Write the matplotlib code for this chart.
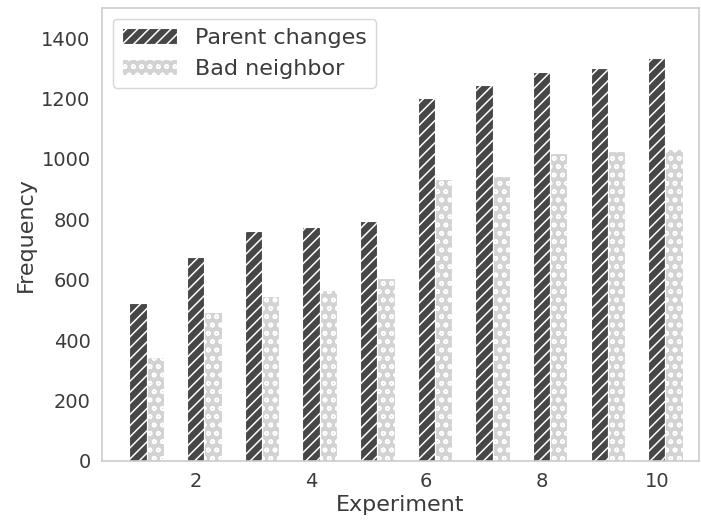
import numpy as np
import matplotlib
matplotlib.use("Agg")
import matplotlib.pyplot as plt

# data
experiments = np.arange(1, 11)
parent_changes = [522, 674, 762, 773, 795, 1200, 1244, 1286, 1300, 1333]
bad_neighbor = [344, 494, 545, 565, 607, 934, 942, 1018, 1025, 1033]

text_color = '#3b3b3b'
plt.rcParams['font.family'] = ['DejaVu Sans']
plt.rcParams['text.color'] = text_color
plt.rcParams['axes.labelcolor'] = text_color
plt.rcParams['xtick.color'] = text_color
plt.rcParams['ytick.color'] = text_color
plt.rcParams['hatch.linewidth'] = 1.1

fig, ax = plt.subplots(figsize=(7.01, 5.22), dpi=100)
width = 0.3
ax.bar(experiments, parent_changes, width, color='#474747', edgecolor='white',
       hatch='///', linewidth=0.8, label='Parent changes')
ax.bar(experiments + width, bad_neighbor, width, color='#d3d3d3', edgecolor='white',
       hatch='oo', linewidth=0.8, label='Bad neighbor')

ax.set_xlim(0.37, 10.73)
ax.set_ylim(0, 1500)
ax.set_xticks([2, 4, 6, 8, 10])
ax.set_yticks(range(0, 1401, 200))
ax.tick_params(labelsize=14, length=0, pad=8)
ax.set_xlabel('Experiment', fontsize=16, labelpad=3)
ax.set_ylabel('Frequency', fontsize=16)
for s in ax.spines.values():
    s.set_color('#cccccc')
    s.set_linewidth(1.2)

leg = ax.legend(loc='upper left', fontsize=16, frameon=True, edgecolor='#cccccc',
                handlelength=2.5, borderaxespad=0.5)

fig.subplots_adjust(left=0.145, right=0.997, top=0.985, bottom=0.117)
fig.savefig('out.png', dpi=100)
